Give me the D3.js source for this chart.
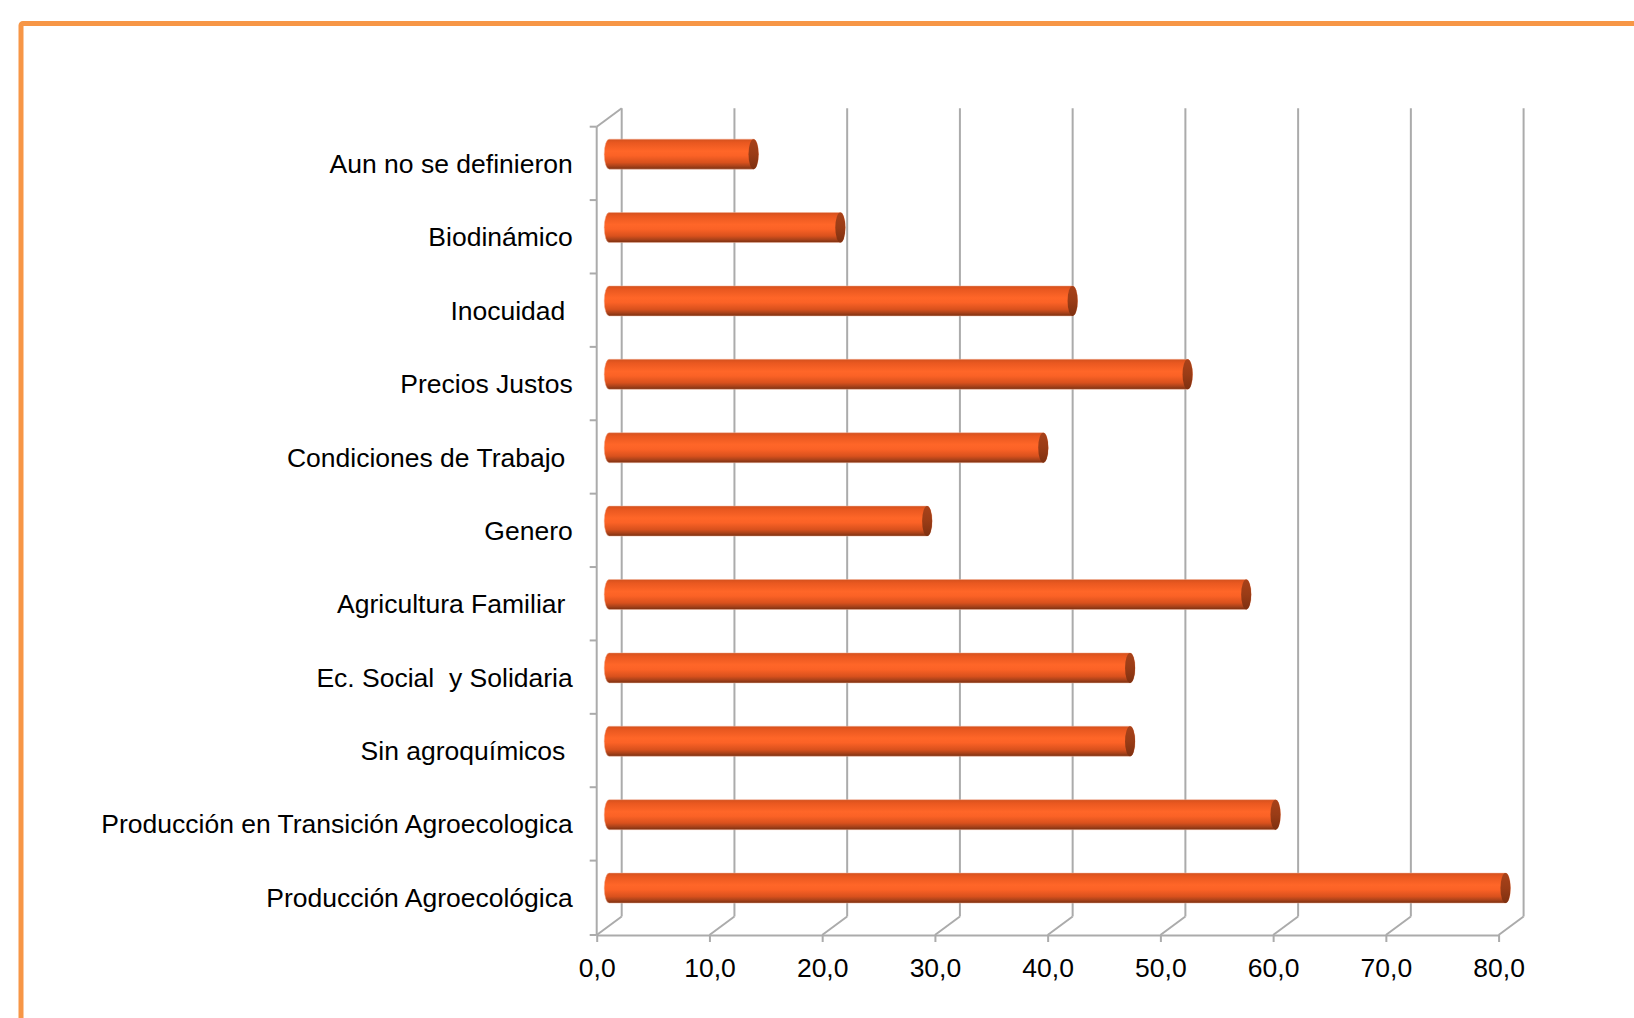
<!DOCTYPE html>
<html>
<head>
<meta charset="utf-8">
<script src="https://cdn.jsdelivr.net/npm/d3@7"></script>
<style>
  body { margin: 0; background: #fff; }
  svg { display: block; }
  .lbl text { font-family: 'Liberation Sans', Arial, sans-serif; font-size: 26.5px; fill: #000; white-space: pre; }
</style>
</head>
<body>
<svg id="chart" width="1634" height="1018"></svg>
<script>
// categories top -> bottom
const categories = [
  'Aun no se definieron',
  'Biodinámico',
  'Inocuidad ',
  'Precios Justos',
  'Condiciones de Trabajo ',
  'Genero',
  'Agricultura Familiar ',
  'Ec. Social  y Solidaria',
  'Sin agroquímicos ',
  'Producción en Transición Agroecologica',
  'Producción Agroecológica'
];
const values = [12.8, 20.5, 41.1, 51.3, 38.5, 28.2, 56.5, 46.2, 46.2, 59.1, 79.5];
const xTicks = [0, 10, 20, 30, 40, 50, 60, 70, 80];

const svg = d3.select('#chart');
const gridColor = '#ababab';

// 3d depth offset of the back wall
const dx = 25, dy = -18.5;

const x = d3.scaleLinear().domain([0, 80]).range([596.7, 1498.6]);
const y = d3.scaleBand().domain(categories).range([126.7, 934]);

const locale = d3.formatLocale({ decimal: ',', thousands: '.', grouping: [3], currency: ['', ''] });
const fmt = locale.format('.1f');

// orange frame
svg.append('rect')
  .attr('x', 21).attr('y', 23.5)
  .attr('width', 1700).attr('height', 1100)
  .attr('rx', 2)
  .attr('fill', 'none')
  .attr('stroke', '#f79646')
  .attr('stroke-width', 5);

const grid = svg.append('g')
  .attr('stroke', gridColor)
  .attr('stroke-width', 2)
  .attr('fill', 'none');

const yTop = y.range()[0], yBot = y.range()[1] + 1;

// back wall vertical lines
grid.selectAll('.back')
  .data(xTicks)
  .join('line')
  .attr('x1', d => x(d) + dx).attr('x2', d => x(d) + dx)
  .attr('y1', yTop + dy).attr('y2', yBot + dy);

// floor diagonals
grid.selectAll('.floor')
  .data(xTicks)
  .join('line')
  .attr('x1', d => x(d)).attr('y1', yBot)
  .attr('x2', d => x(d) + dx).attr('y2', yBot + dy);

// left wall: front edge and top diagonal
grid.append('line')
  .attr('x1', x(0)).attr('x2', x(0))
  .attr('y1', yTop).attr('y2', yBot);
grid.append('line')
  .attr('x1', x(0)).attr('y1', yTop)
  .attr('x2', x(0) + dx).attr('y2', yTop + dy);

// category boundary ticks
const bounds = categories.map(c => y(c)).concat([yBot]);
grid.selectAll('.ytick')
  .data(bounds)
  .join('line')
  .attr('x1', x(0) - 7).attr('x2', x(0))
  .attr('y1', d => d).attr('y2', d => d);

// x axis
const xAxis = svg.append('g')
  .attr('class', 'lbl')
  .attr('transform', `translate(0,${yBot})`)
  .call(d3.axisBottom(x).tickValues(xTicks).tickFormat(fmt).tickSize(7).tickSizeOuter(0).tickPadding(16));
xAxis.select('.domain').attr('stroke', gridColor).attr('stroke-width', 2);
xAxis.selectAll('.tick line').attr('stroke', gridColor).attr('stroke-width', 2);

// y labels
const yAxis = svg.append('g')
  .attr('class', 'lbl')
  .attr('transform', `translate(${x(0)},0)`)
  .call(d3.axisLeft(y).tickSize(0).tickPadding(24));
yAxis.select('.domain').remove();
yAxis.selectAll('text').attr('dy', '0.36em');

// cylinder gradient
const defs = svg.append('defs');
const grad = defs.append('linearGradient')
  .attr('id', 'cyl').attr('x1', 0).attr('y1', 0).attr('x2', 0).attr('y2', 1);
[[0, '#d4511d'], [0.12, '#e95820'], [0.4, '#ff6628'], [0.55, '#fb6226'],
 [0.78, '#d9511d'], [0.9, '#a9421a'], [1, '#7a2f10']].forEach(([o, c]) =>
  grad.append('stop').attr('offset', o).attr('stop-color', c));

const capGrad = defs.append('linearGradient')
  .attr('id', 'cap').attr('x1', 0).attr('y1', 0).attr('x2', 0).attr('y2', 1);
[[0, '#a8421a'], [0.5, '#9a3c16'], [1, '#7e3010']].forEach(([o, c]) =>
  capGrad.append('stop').attr('offset', o).attr('stop-color', c));

const rx = 5, ry = 15;
const bars = svg.append('g')
  .selectAll('g')
  .data(categories.map((c, i) => ({ c, v: values[i] })))
  .join('g')
  .attr('transform', d => `translate(${dx / 2},${y(d.c) + y.bandwidth() / 2 + dy / 2})`);

bars.append('path')
  .attr('d', d => {
    const x0 = x(0), x1 = x(d.v);
    return `M${x0},${-ry}L${x1},${-ry}A${rx},${ry} 0 0 1 ${x1},${ry}L${x0},${ry}A${rx},${ry} 0 0 1 ${x0},${-ry}Z`;
  })
  .attr('fill', 'url(#cyl)')
  .attr('stroke', '#f2b49a')
  .attr('stroke-opacity', 0.6)
  .attr('stroke-width', 0.8);

bars.append('ellipse')
  .attr('cx', d => x(d.v))
  .attr('cy', 0)
  .attr('rx', rx).attr('ry', ry)
  .attr('fill', 'url(#cap)');
</script>
</body>
</html>
